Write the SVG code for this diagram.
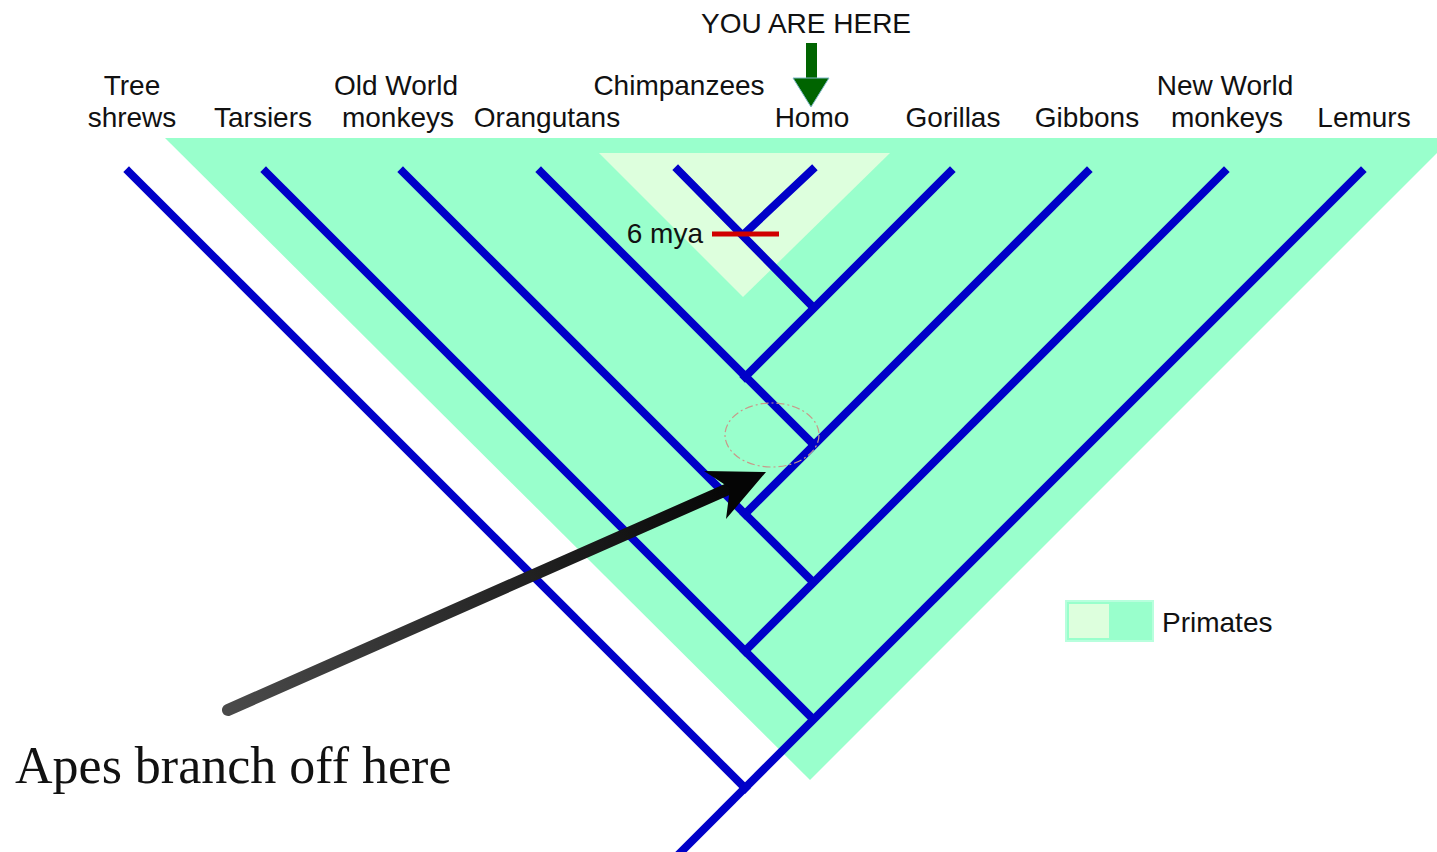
<svg xmlns="http://www.w3.org/2000/svg" width="1437" height="852" viewBox="0 0 1437 852">
  <style>
    .lbl { font-family: "Liberation Sans", Arial, sans-serif; font-size: 28px; fill: #111; text-anchor: middle; }
    .br { stroke: #0000c8; stroke-width: 8; stroke-linecap: square; fill: none; }
  </style>
  <defs>
    <linearGradient id="shaft" x1="228" y1="710" x2="740" y2="484" gradientUnits="userSpaceOnUse">
      <stop offset="0" stop-color="#4a4a4a"/>
      <stop offset="1" stop-color="#050505"/>
    </linearGradient>
  </defs>
  <rect width="1437" height="852" fill="#ffffff"/>

  <g id="primates-region">
    <polygon points="165,138 1452,138 810,780" fill="#99ffcc"/>
    <polygon points="599,153 890,153 743,297" fill="#ddffdd"/>
  </g>

  <g id="connectors">
    <line class="br" x1="129" y1="172" x2="745" y2="788"/>
    <line class="br" x1="745" y1="788" x2="677" y2="856"/>
    <line class="br" x1="1361" y1="172" x2="745" y2="788"/>
    <line class="br" x1="266" y1="172" x2="813" y2="719"/>
    <line class="br" x1="1224" y1="172" x2="745" y2="651"/>
    <line class="br" x1="403" y1="172" x2="813" y2="582"/>
    <line class="br" x1="1087" y1="172" x2="745" y2="514"/>
    <line class="br" x1="541" y1="172" x2="813" y2="444"/>
    <line class="br" x1="950" y1="172" x2="745" y2="377"/>
    <line class="br" x1="678" y1="170" x2="813" y2="307"/>
    <line class="br" x1="812" y1="170" x2="743" y2="235"/>
  </g>

  <g id="mya-marker">
    <line x1="712" y1="234" x2="779" y2="234" stroke="#d00000" stroke-width="5"/>
    <text x="703" y="243" class="lbl" style="text-anchor:end">6 mya</text>
  </g>

  <g id="highlight-ellipse">
    <ellipse cx="772" cy="435" rx="47" ry="32" fill="none" stroke="#c89a8a" stroke-width="1.2" stroke-dasharray="8 3 2 3"/>
  </g>

  <g id="you-are-here">
    <text x="806" y="33" class="lbl">YOU ARE HERE</text>
    <rect x="806" y="43" width="11" height="40" fill="#006400"/>
    <polygon points="793,78 829,78 811,107" fill="#006400" stroke="#7fb8c8" stroke-width="1"/>
  </g>

  <g id="labels">
    <text x="132" y="95" class="lbl">Tree</text>
    <text x="132" y="127" class="lbl">shrews</text>
    <text x="263" y="127" class="lbl">Tarsiers</text>
    <text x="396" y="95" class="lbl">Old World</text>
    <text x="398" y="127" class="lbl">monkeys</text>
    <text x="547" y="127" class="lbl">Orangutans</text>
    <text x="679" y="95" class="lbl">Chimpanzees</text>
    <text x="812" y="127" class="lbl">Homo</text>
    <text x="953" y="127" class="lbl">Gorillas</text>
    <text x="1087" y="127" class="lbl">Gibbons</text>
    <text x="1225" y="95" class="lbl">New World</text>
    <text x="1227" y="127" class="lbl">monkeys</text>
    <text x="1364" y="127" class="lbl">Lemurs</text>
  </g>

  <g id="legend">
    <rect x="1066" y="601" width="87" height="40" fill="#99ffcc" stroke="#b8ffdd" stroke-width="2"/>
    <rect x="1069" y="604" width="40" height="34" fill="#ddffdd"/>
    <text x="1162" y="632" class="lbl" style="text-anchor:start">Primates</text>
  </g>

  <g id="apes-arrow">
    <line x1="228" y1="710" x2="735" y2="486" stroke="url(#shaft)" stroke-width="12" stroke-linecap="round"/>
    <polygon points="766,472 704,471 730,488 726,519" fill="#050505"/>
    <text x="15" y="783" font-family="'Liberation Serif', 'Times New Roman', serif" font-size="52" fill="#111">Apes branch off here</text>
  </g>
</svg>
